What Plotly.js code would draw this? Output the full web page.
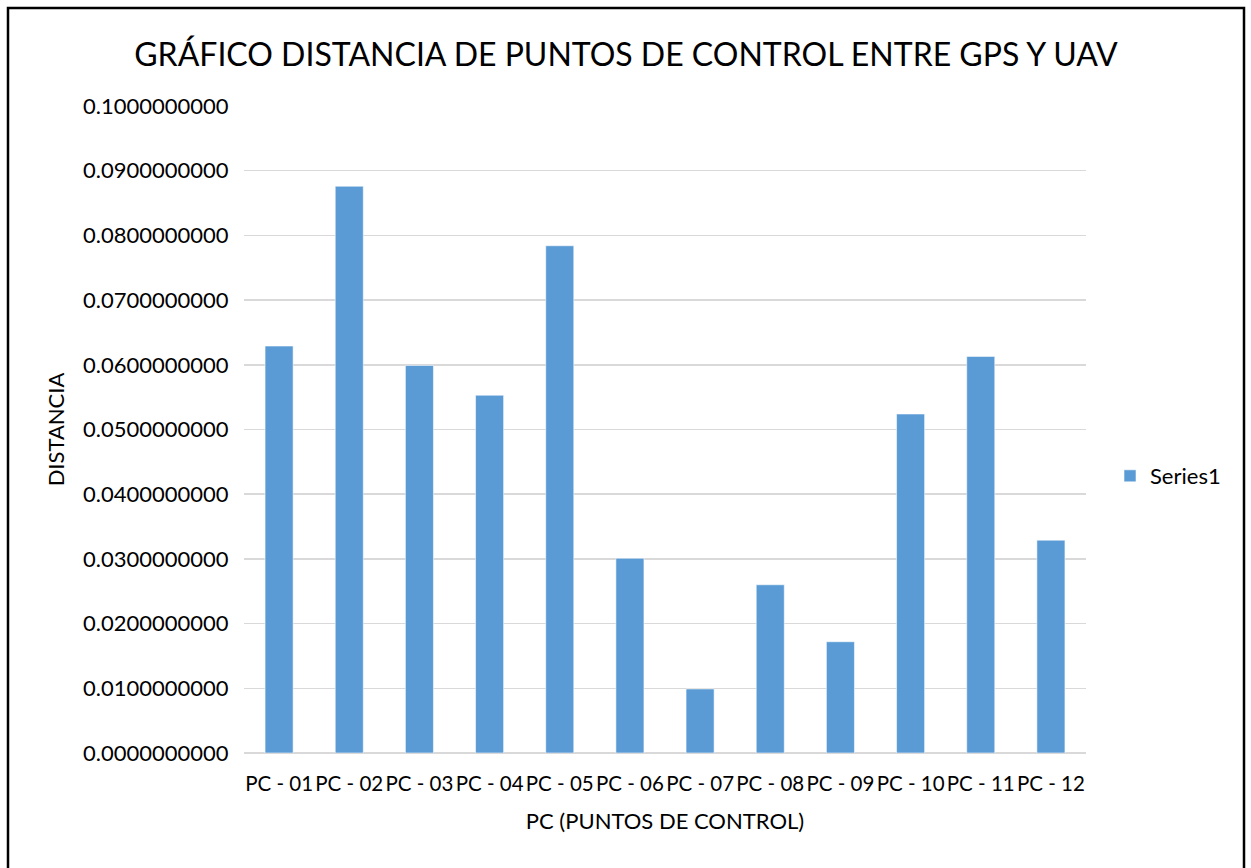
<!DOCTYPE html>
<html>
<head>
<meta charset="utf-8">
<script src="https://cdn.plot.ly/plotly-3.0.1.min.js"></script>
<style>
html,body{margin:0;padding:0;background:#fff;}
#chart{width:1251px;height:868px;}
</style>
</head>
<body>
<div id="chart"></div>
<script>
const categories = ["PC - 01","PC - 02","PC - 03","PC - 04","PC - 05","PC - 06","PC - 07","PC - 08","PC - 09","PC - 10","PC - 11","PC - 12"];
const series1 = [0.0629,0.0876,0.0599,0.0553,0.0784,0.0301,0.0099,0.0260,0.0172,0.0524,0.0613,0.0329];
const seriesName = "Series1";
const chartTitle = "GRÁFICO DISTANCIA DE PUNTOS DE CONTROL ENTRE GPS Y UAV";
const xTitle = "PC (PUNTOS DE CONTROL)";
const yTitle = "DISTANCIA";

const font = "Lato, 'Open Sans', sans-serif";
const L = 244, R = 165, T = 106, B = 115, W = 1251, H = 868;
const pw = W - L - R, ph = H - T - B;

const trace = {
  type: "bar",
  x: categories,
  y: series1,
  name: seriesName,
  showlegend: true,
  marker: {color: "#5b9bd5", line: {color: "rgba(255,255,255,0.55)", width: 1}}
};

const layout = {
  width: W, height: H,
  margin: {l: L, r: R, t: T, b: B, pad: 0},
  paper_bgcolor: "#fff", plot_bgcolor: "#fff",
  font: {family: font, color: "#000", size: 22},
  bargap: 0.6,
  title: {text: chartTitle, xref: "container", x: 626/W, xanchor: "center",
          yref: "container", y: 1 - 55/H, yanchor: "middle",
          font: {family: font, size: 32, color: "#000"}},
  xaxis: {
    type: "category",
    title: {text: xTitle, standoff: 20, font: {size: 22, family: font}},
    showgrid: false, zeroline: false,
    showline: false,
    ticks: "outside", ticklen: 12, tickcolor: "rgba(0,0,0,0)",
    tickfont: {size: 20.5, family: font},
    tickangle: 0
  },
  yaxis: {
    range: [0, 0.1], dtick: 0.01, tick0: 0,
    tickformat: ".10f",
    title: {text: yTitle, standoff: 12, font: {size: 22, family: font}},
    showgrid: true, gridcolor: "#d9d9d9", gridwidth: 1.5,
    zeroline: true, zerolinecolor: "#d9d9d9", zerolinewidth: 1.5,
    showline: false,
    ticks: "outside", ticklen: 10, tickcolor: "rgba(0,0,0,0)",
    tickfont: {size: 22, family: font}
  },
  legend: {x: (1110 - L)/pw, xanchor: "left", y: 1 - (476 - T)/ph, yanchor: "middle",
           font: {size: 22, family: font}, bgcolor: "rgba(0,0,0,0)"},
  shapes: [{
    type: "rect", xref: "paper", yref: "paper",
    x0: (8 - L)/pw, x1: (1244 - L)/pw,
    y0: 1 - (880 - T)/ph, y1: 1 - (8 - T)/ph,
    line: {color: "#000", width: 2.5}, fillcolor: "rgba(0,0,0,0)", layer: "above"
  }]
};

Plotly.newPlot("chart", [trace], layout, {displayModeBar: false, staticPlot: true});
</script>
</body>
</html>
